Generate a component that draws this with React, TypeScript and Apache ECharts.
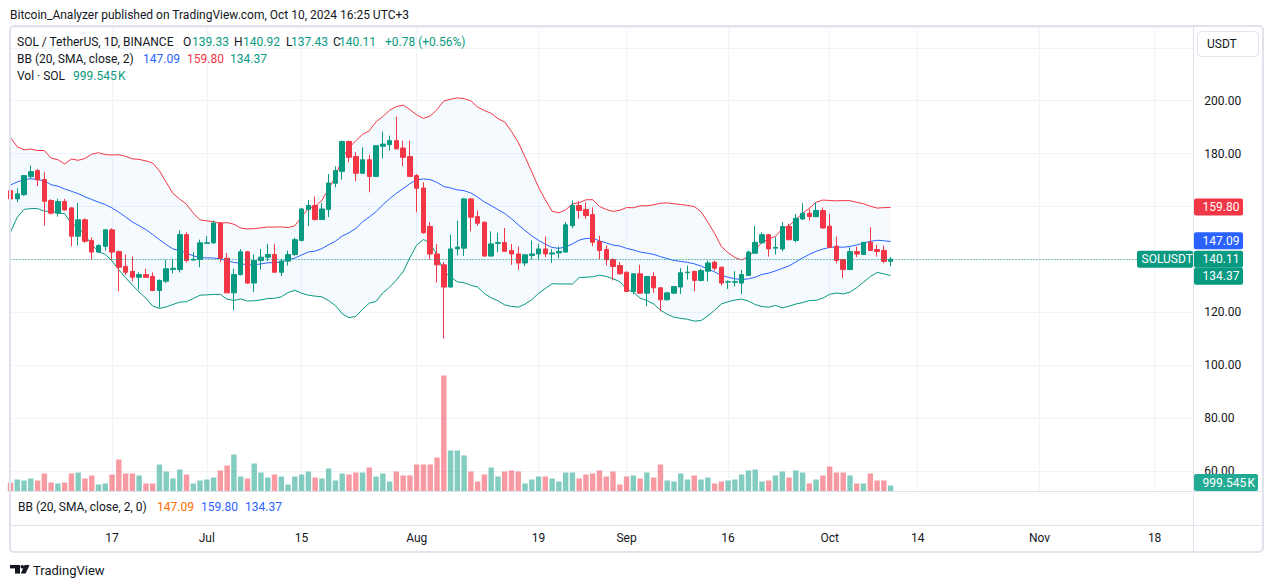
import React, { useEffect, useRef } from 'react';
import * as echarts from 'echarts';

const FONT = 'Roboto, "Noto Sans", sans-serif';
const DARK = '#131722';
const UP = '#089981';
const DOWN = '#f23645';
const BLUE = '#2962ff';
const ORANGE = '#ff6d00';
const LINE = '#e0e3eb';
const GRID = '#f0f3fa';

const firstDate = '2024-06-02';
const dayCount = 176;

const tickDates = ['2024-06-17', '2024-07-01', '2024-07-15', '2024-08-01', '2024-08-19', '2024-09-01', '2024-09-16', '2024-10-01', '2024-10-14', '2024-11-01', '2024-11-18'];
const tickLabels = ['17', 'Jul', '15', 'Aug', '19', 'Sep', '16', 'Oct', '14', 'Nov', '18'];

// closes before the first visible candle (needed for the 20-day Bollinger window)
const priorCloses = [142.0, 153.7, 167.0, 176.0, 172.0, 186.0, 174.0, 178.7, 166.8, 173.0, 170.9, 162.8, 165.3, 169.2, 168.8, 169.1, 171.2, 171.3, 162.3];

const opens = [
  166.0, 162.9, 164.5, 171.3, 173.6, 170.2, 162.3, 157.5, 161.9, 159.5,
  148.8, 155.0, 147.2, 142.8, 145.0, 151.2, 143.0, 137.4, 135.5, 133.3,
  134.3, 133.6, 128.3, 131.8, 136.2, 136.2, 149.4, 139.8, 140.0, 146.1,
  146.3, 153.8, 140.5, 127.4, 134.3, 142.9, 131.1, 139.6, 140.9, 141.9,
  135.2, 139.4, 141.9, 147.2, 158.9, 160.4, 155.1, 158.9, 168.8, 173.3,
  184.6, 178.9, 172.6, 177.7, 171.4, 182.8, 183.4, 184.9, 182.1, 178.9,
  171.7, 167.0, 152.5, 142.1, 138.0, 129.6, 144.0, 144.3, 162.9, 156.2,
  154.1, 141.3, 146.1, 146.4, 143.4, 142.1, 138.7, 141.5, 142.1, 144.0,
  142.1, 142.5, 142.8, 152.8, 160.4, 158.9, 157.0, 146.8, 143.8, 140.0,
  137.7, 135.2, 127.9, 134.6, 127.3, 133.6, 129.3, 124.8, 127.3, 129.6,
  135.0, 135.5, 132.1, 135.6, 139.0, 137.1, 131.5, 131.4, 131.1, 134.0,
  142.4, 146.3, 149.4, 144.3, 144.0, 152.5, 147.2, 155.3, 157.5, 156.2,
  158.5, 152.6, 145.0, 140.0, 136.2, 143.0, 141.9, 146.5, 143.8, 143.4,
  139.33,
];
const highs = [
  166.8, 167.0, 171.9, 175.5, 174.2, 173.0, 162.8, 162.9, 162.9, 159.7,
  161.4, 155.6, 148.4, 145.7, 151.5, 151.8, 143.4, 141.9, 141.1, 135.1,
  136.5, 135.1, 132.5, 139.9, 140.2, 151.0, 150.3, 142.8, 147.5, 148.9,
  154.7, 154.1, 142.5, 136.5, 143.9, 143.2, 141.9, 144.0, 145.9, 145.9,
  140.2, 143.4, 148.3, 159.5, 162.5, 163.8, 161.4, 172.3, 175.2, 184.9,
  184.9, 180.5, 182.4, 179.6, 183.0, 188.3, 186.8, 194.0, 184.9, 184.9,
  172.3, 169.2, 154.1, 145.9, 139.0, 149.4, 154.7, 163.3, 163.3, 158.5,
  154.3, 150.6, 150.1, 151.9, 145.9, 144.9, 142.0, 147.2, 145.9, 148.7,
  144.0, 144.9, 154.1, 162.3, 162.0, 161.6, 159.7, 149.0, 145.3, 140.5,
  139.0, 135.4, 134.8, 138.0, 133.8, 135.2, 129.5, 127.6, 130.0, 136.8,
  137.7, 135.8, 136.5, 139.6, 139.6, 137.4, 132.1, 135.6, 136.1, 143.4,
  152.6, 150.3, 149.7, 148.4, 154.1, 153.5, 157.2, 161.3, 159.1, 161.6,
  159.7, 157.2, 148.7, 140.2, 144.6, 144.9, 146.6, 152.2, 145.5, 145.3,
  140.92,
];
const lows = [
  162.0, 161.6, 164.1, 170.4, 167.7, 152.8, 157.0, 156.2, 158.5, 145.0,
  145.3, 146.3, 139.9, 142.5, 143.4, 139.9, 128.0, 134.2, 131.8, 128.7,
  133.1, 128.0, 121.8, 131.1, 134.8, 135.1, 138.9, 139.6, 137.1, 145.9,
  145.9, 139.0, 127.3, 120.8, 134.0, 130.8, 127.7, 136.2, 139.4, 135.1,
  133.7, 137.7, 141.3, 146.9, 152.6, 154.7, 155.0, 156.0, 167.3, 170.2,
  176.7, 169.6, 172.3, 165.4, 171.2, 178.2, 181.1, 181.5, 175.2, 171.2,
  157.9, 149.7, 140.0, 131.2, 110.1, 129.4, 141.5, 141.3, 150.7, 152.8,
  141.1, 141.1, 142.8, 142.8, 138.0, 136.1, 137.5, 140.0, 140.0, 140.9,
  138.7, 140.5, 142.6, 151.8, 155.4, 155.4, 145.0, 140.2, 137.7, 132.1,
  134.3, 127.7, 126.8, 127.0, 122.3, 127.4, 120.4, 124.5, 127.0, 127.0,
  132.4, 128.0, 131.8, 131.8, 135.8, 130.2, 128.9, 129.8, 127.0, 133.8,
  142.1, 145.9, 141.1, 141.9, 143.1, 147.2, 146.5, 155.0, 154.7, 156.0,
  151.6, 144.4, 138.6, 133.0, 136.1, 140.9, 141.8, 143.3, 141.1, 138.6,
  137.43,
];
const closes = [
  162.9, 164.8, 171.7, 173.2, 170.1, 162.0, 157.5, 161.9, 158.7, 148.8,
  155.0, 146.9, 142.8, 145.3, 151.2, 142.8, 137.1, 135.2, 133.3, 134.3,
  133.3, 128.3, 132.1, 136.5, 136.7, 149.4, 139.6, 140.1, 146.3, 146.3,
  153.8, 140.5, 127.4, 134.3, 142.9, 131.1, 139.6, 140.9, 141.9, 135.2,
  139.4, 141.9, 147.5, 159.1, 160.4, 155.1, 159.1, 168.9, 173.6, 184.6,
  178.6, 172.6, 177.7, 171.4, 183.0, 183.6, 184.9, 181.8, 178.6, 171.4,
  166.9, 150.1, 142.1, 138.0, 129.6, 144.0, 144.7, 162.9, 156.0, 153.7,
  141.3, 145.9, 146.4, 143.1, 142.1, 138.7, 141.8, 142.1, 144.0, 142.1,
  142.5, 143.1, 153.1, 160.4, 158.5, 156.6, 146.5, 143.4, 139.9, 137.4,
  134.6, 127.9, 134.6, 127.3, 133.6, 129.3, 124.8, 127.4, 129.8, 135.0,
  135.2, 132.1, 135.8, 138.7, 136.7, 131.1, 131.6, 131.6, 134.3, 142.8,
  146.5, 149.4, 144.0, 144.6, 152.5, 147.5, 155.6, 157.5, 156.2, 158.5,
  151.9, 144.6, 139.6, 136.2, 143.0, 142.1, 146.5, 143.4, 143.0, 139.3,
  140.11,
];
// volume in thousands of SOL
const volumesK = [
  1440, 1990, 1830, 2160, 1830, 2990, 1490, 1330, 1490, 2990,
  3150, 2160, 2660, 1160, 1330, 2820, 5310, 2990, 2990, 2660,
  1330, 1330, 4480, 3320, 2160, 3650, 2820, 1330, 1830, 1990,
  2320, 3490, 4320, 6140, 2490, 2160, 4650, 3150, 2320, 2820,
  2490, 1160, 2490, 2820, 3320, 2320, 2160, 3820, 1830, 2990,
  2820, 3150, 3150, 3980, 2490, 2990, 1660, 3320, 2660, 2660,
  4480, 4480, 4480, 5640, 19260, 6810, 6810, 5980, 3320, 1660,
  2820, 3980, 2490, 3320, 3490, 3320, 1330, 1990, 2490, 2490,
  2160, 1660, 3150, 3150, 2160, 2820, 2990, 3490, 2490, 3320,
  1160, 2490, 2660, 2160, 3150, 2320, 4480, 1830, 1660, 2990,
  1990, 2660, 1990, 2320, 1330, 1660, 1830, 1990, 2820, 3490,
  3650, 1660, 1830, 2660, 3320, 2320, 3490, 3150, 1330, 1990,
  2660, 4150, 3150, 3150, 2660, 1330, 1330, 2990, 1830, 1830,
  999.545,
];

const lastBasis = 147.09;
const lastUpper = 159.8;
const lastLower = 134.37;
const lastClose = 140.11;

const PRICE_MIN = 52.36;
const PRICE_MAX = 227.84;
const GRID_TOP = 27;
const GRID_H = 464.5;
const VOL_MAX = 166 * GRID_H;

function buildDates(): string[] {
  const out: string[] = [];
  const t0 = new Date(firstDate + 'T00:00:00Z').getTime();
  for (let i = 0; i < dayCount; i++) out.push(new Date(t0 + i * 86400000).toISOString().slice(0, 10));
  return out;
}

function bollinger() {
  const all = [...priorCloses, ...closes];
  const P = priorCloses.length;
  const mid: number[] = [], up: number[] = [], lo: number[] = [];
  for (let i = 0; i < closes.length; i++) {
    const w = all.slice(P + i - 19, P + i + 1);
    const m = w.reduce((a, b) => a + b, 0) / w.length;
    const sd = Math.sqrt(w.reduce((a, b) => a + (b - m) * (b - m), 0) / w.length);
    mid.push(+m.toFixed(3));
    up.push(+(m + 2 * sd).toFixed(3));
    lo.push(+(m - 2 * sd).toFixed(3));
  }
  return { mid, up, lo };
}

function buildOption() {
  const dates = buildDates();
  const isTick = (_i: number, v: string) => tickDates.indexOf(v) >= 0;
  const bb = bollinger();
  const band = bb.up.map((u, i) => +(u - bb.lo[i]).toFixed(3));
  const lineBase = { type: 'line', xAxisIndex: 0, yAxisIndex: 0, symbol: 'none', silent: true, smooth: false };
  return {
    animation: false,
    backgroundColor: '#ffffff',
    textStyle: { fontFamily: FONT },
    grid: [
      { left: 10.5, top: GRID_TOP, width: 1184.75, height: GRID_H },
      { left: 10.5, top: 492, width: 1184.75, height: 33.7 },
    ],
    xAxis: [
      {
        type: 'category', gridIndex: 0, data: dates, boundaryGap: false,
        axisLine: { show: false }, axisTick: { show: false }, axisLabel: { show: false },
        splitLine: { show: true, interval: isTick, lineStyle: { color: GRID, width: 1 } },
      },
      {
        type: 'category', gridIndex: 1, data: dates, boundaryGap: false,
        axisLine: { show: false }, axisTick: { show: false }, splitLine: { show: false },
        axisLabel: {
          show: true, interval: isTick, margin: 6, color: DARK, fontSize: 12, fontFamily: FONT,
          formatter: (v: string) => { const k = tickDates.indexOf(v); return k >= 0 ? tickLabels[k] : ''; },
        },
      },
    ],
    yAxis: [
      {
        type: 'value', gridIndex: 0, position: 'right', min: PRICE_MIN, max: PRICE_MAX, splitNumber: 9, scale: true,
        axisLine: { show: false }, axisTick: { show: false },
        axisLabel: {
          margin: 9, color: DARK, fontSize: 12, fontFamily: FONT,
          formatter: (v: number) => {
            const r = Math.round(v);
            return Math.abs(v - r) < 1e-6 && r % 20 === 0 && r <= 200 ? r.toFixed(2) : '';
          },
        },
        splitLine: { show: true, lineStyle: { color: GRID, width: 1 } },
      },
      { type: 'value', gridIndex: 0, min: 0, max: VOL_MAX, show: false, splitLine: { show: false } },
      { type: 'value', gridIndex: 1, show: false, splitLine: { show: false } },
    ],
    series: [
      { ...lineBase, name: 'bbBase', data: bb.lo, stack: 'bb', lineStyle: { opacity: 0 }, z: 1 },
      { ...lineBase, name: 'bbFill', data: band, stack: 'bb', lineStyle: { opacity: 0 }, areaStyle: { color: 'rgba(33,150,243,0.05)', opacity: 1 }, z: 1 },
      {
        type: 'bar', name: 'Vol', xAxisIndex: 0, yAxisIndex: 1, barWidth: 5.4, silent: true, z: 2,
        data: volumesK.map((v, i) => ({ value: v, itemStyle: { color: closes[i] >= opens[i] ? 'rgba(8,153,129,0.5)' : 'rgba(242,54,69,0.5)' } })),
      },
      { ...lineBase, name: 'Upper', data: bb.up, lineStyle: { color: DOWN, width: 1 }, z: 3 },
      { ...lineBase, name: 'Basis', data: bb.mid, lineStyle: { color: BLUE, width: 1 }, z: 3 },
      { ...lineBase, name: 'Lower', data: bb.lo, lineStyle: { color: UP, width: 1 }, z: 3 },
      {
        type: 'candlestick', name: 'SOLUSDT', xAxisIndex: 0, yAxisIndex: 0, barWidth: 5, silent: true, z: 4,
        data: opens.map((o, i) => [o, closes[i], lows[i], highs[i]]),
        itemStyle: { color: UP, color0: DOWN, borderColor: UP, borderColor0: DOWN, borderWidth: 1 },
        markLine: {
          silent: true, animation: false, symbol: ['none', 'none'], label: { show: false },
          lineStyle: { color: UP, type: [1, 2], width: 1 },
          data: [{ yAxis: lastClose }],
        },
      },
    ],
  };
}

function buildGraphics(chart: any) {
  const py = (v: number) => chart.convertToPixel({ yAxisIndex: 0 }, v) as number;
  const vy = (v: number) => chart.convertToPixel({ yAxisIndex: 1 }, v) as number;
  const g: any[] = [];
  const T = (x: number, y: number, text: string, fill = DARK, size = 12, extra: any = {}) =>
    g.push({ type: 'text', x, y, z: 120, silent: true, style: { text, fill, fontSize: size, fontFamily: FONT, verticalAlign: 'middle', align: 'left', ...extra } });

  // frame and separators
  g.push({ type: 'rect', z: 110, silent: true, shape: { x: 10, y: 26, width: 1253, height: 526, r: 4 }, style: { fill: 'none', stroke: LINE, lineWidth: 2 } });
  g.push({ type: 'line', z: 110, silent: true, shape: { x1: 11, y1: 491.5, x2: 1262, y2: 491.5 }, style: { stroke: LINE, lineWidth: 1 } });
  g.push({ type: 'line', z: 110, silent: true, shape: { x1: 11, y1: 525.5, x2: 1262, y2: 525.5 }, style: { stroke: LINE, lineWidth: 1 } });
  g.push({ type: 'line', z: 110, silent: true, shape: { x1: 1193.5, y1: 27, x2: 1193.5, y2: 551 }, style: { stroke: LINE, lineWidth: 1 } });

  // publisher line
  T(10, 14.5, 'Bitcoin_Analyzer published on TradingView.com, Oct 10, 2024 16:25 UTC+3');

  // legend rows
  T(17, 42, 'SOL / TetherUS, 1D, BINANCE');
  T(183, 42, 'O'); T(192, 42, '139.33', UP);
  T(234, 42, 'H'); T(243, 42, '140.92', UP);
  T(286, 42, 'L'); T(291, 42, '137.43', UP);
  T(333, 42, 'C'); T(339, 42, '140.11', UP);
  T(385, 42, '+0.78 (+0.56%)', UP);
  T(17, 59, 'BB (20, SMA, close, 2)');
  T(143, 59, lastBasis.toFixed(2), BLUE);
  T(187, 59, lastUpper.toFixed(2), DOWN);
  T(230, 59, lastLower.toFixed(2), UP);
  T(17, 76, 'Vol · SOL');
  T(73, 76, '999.545\u202fK', UP);

  // lower pane legend
  T(18, 507, 'BB (20, SMA, close, 2, 0)');
  T(157, 507, lastBasis.toFixed(2), ORANGE);
  T(201, 507, lastUpper.toFixed(2), BLUE);
  T(245, 507, lastLower.toFixed(2), BLUE);

  // currency box
  g.push({ type: 'rect', z: 115, silent: true, shape: { x: 1197.5, y: 31.5, width: 61, height: 25, r: 4 }, style: { fill: '#ffffff', stroke: LINE, lineWidth: 1 } });
  T(1207, 44, 'USDT');

  // price tags on the axis
  const tags = [
    { v: lastUpper, c: DOWN },
    { v: lastBasis, c: BLUE },
    { v: lastClose, c: UP },
    { v: lastLower, c: UP },
  ].map((t) => ({ ...t, y: py(t.v) })).sort((a, b) => a.y - b.y);
  for (let i = 1; i < tags.length; i++) tags[i].y = Math.max(tags[i].y, tags[i - 1].y + 17);
  tags.forEach((t) => {
    g.push({ type: 'rect', z: 116, silent: true, shape: { x: 1194, y: t.y - 8.5, width: 49, height: 17, r: 2 }, style: { fill: t.c } });
    T(1202.5, t.y, t.v.toFixed(2), '#ffffff');
  });
  const cy = py(lastClose);
  g.push({ type: 'rect', z: 116, silent: true, shape: { x: 1137, y: cy - 8.5, width: 56, height: 17, r: 2 }, style: { fill: UP } });
  T(1141.5, cy, 'SOLUSDT', '#ffffff');

  // volume tag
  const vyy = Math.min(vy(volumesK[volumesK.length - 1]), 491 - 8.5);
  g.push({ type: 'rect', z: 116, silent: true, shape: { x: 1194, y: vyy - 8.5, width: 64, height: 17, r: 2 }, style: { fill: '#22ab94' } });
  T(1202.5, vyy, '999.545\u202fK', '#ffffff');

  // TradingView mark
  g.push({ type: 'rect', z: 120, silent: true, shape: { x: 10, y: 565, width: 10, height: 3.4 }, style: { fill: DARK } });
  g.push({ type: 'rect', z: 120, silent: true, shape: { x: 15, y: 565, width: 5, height: 8.6 }, style: { fill: DARK } });
  g.push({ type: 'circle', z: 120, silent: true, shape: { cx: 22.3, cy: 566.8, r: 1.8 }, style: { fill: DARK } });
  g.push({ type: 'polygon', z: 120, silent: true, shape: { points: [[24.6, 565], [29.6, 565], [25.6, 573.6], [20.8, 573.6]] }, style: { fill: DARK } });
  T(33, 570, 'TradingView', DARK, 13);
  return g;
}

export default function App() {
  const ref = useRef<HTMLDivElement>(null);
  useEffect(() => {
    if (!ref.current) return;
    const chart = echarts.init(ref.current, undefined, { renderer: 'svg' });
    chart.setOption(buildOption() as any);
    chart.setOption({ graphic: buildGraphics(chart) } as any);
    return () => chart.dispose();
  }, []);
  return <div ref={ref} style={{ position: 'absolute', left: 0, top: 0, width: 1273, height: 588, background: '#fff' }} />;
}
